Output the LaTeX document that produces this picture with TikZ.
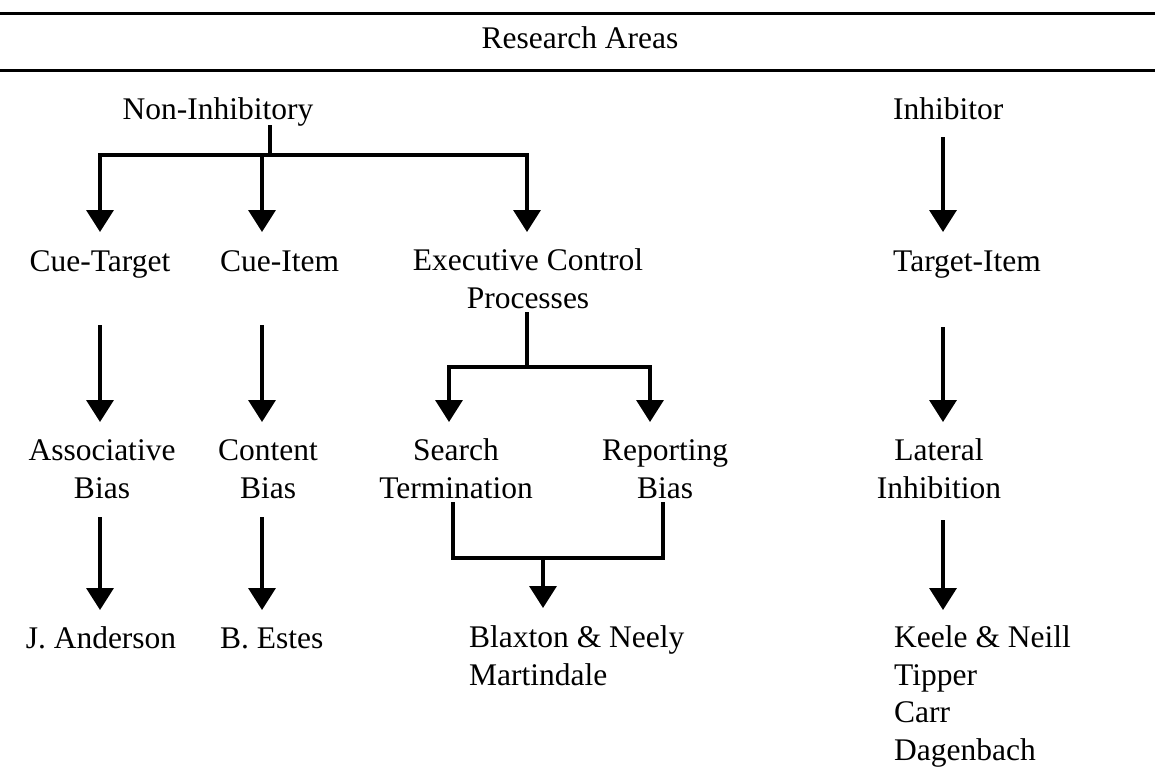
\documentclass[tikz,border=0pt]{standalone}
\usepackage{fontspec}
\setmainfont{Liberation Serif}
\usetikzlibrary{arrows.meta}
\newcommand\dfs{\fontsize{31.5}{37.5}\selectfont}
\tikzset{
  txt/.style={inner sep=0pt, font=\dfs, align=center, anchor=base},
  ln/.style={line width=3.5pt},
  arr/.style={ln, -{Triangle[width=27pt,length=22pt]}},
  rule/.style={line width=3pt},
}
\begin{document}
\begin{tikzpicture}[x=1pt,y=-1pt]
\fill[white] (0,0) rectangle (1155,771);
\useasboundingbox (0,0) rectangle (1155,771);
% table rules
\draw[rule] (0,13) -- (1155,13);
\draw[rule] (0,70) -- (1155,70);
% column coordinates
\coordinate (c2) at (262,0);
\coordinate (c3) at (449,0);
\coordinate (c4) at (650,0);
\coordinate (c5) at (943,0);
\coordinate (c6) at (453,0);
\coordinate (c7) at (663,0);
% nodes (multi-line nodes are placed by the baseline of their last line)
\node[txt] (ra) at (580,48) {Research Areas};
\node[txt] (ni) at (218,119) {Non-Inhibitory};
\node[txt, anchor=base west] (ih) at (893,119) {Inhibitor};
\node[txt] (ct) at (100,271) {Cue-Target};
\node[txt, anchor=base west] (ci) at (220,271) {Cue-Item};
\node[txt] (ec) at (528,308) {Executive Control\\Processes};
\node[txt, anchor=base west] (ti) at (893,271) {Target-Item};
\node[txt] (ab) at (102,498) {Associative\\Bias};
\node[txt] (cb) at (268,498) {Content\\Bias};
\node[txt] (st) at (456,498) {Search\\Termination};
\node[txt] (rb) at (665,498) {Reporting\\Bias};
\node[txt] (li) at (939,498) {Lateral\\Inhibition};
\node[txt] (ja) at (101,648) {J. Anderson};
\node[txt, anchor=base west] (be) at (220,648) {B. Estes};
\node[txt, anchor=base west, align=left] (bn) at (469,685) {Blaxton \& Neely\\Martindale};
\node[txt, anchor=base west, align=left] (kn) at (894,760) {Keele \& Neill\\Tipper\\Carr\\Dagenbach};
% junctions
\coordinate (nj) at (270,155);
\coordinate (ej) at (527,367);
\coordinate (mj) at (543,558);
% Non-Inhibitory branch
\draw[ln] ([yshift=-6pt]ni.base -| nj) -- (nj);
\draw[arr] (nj) -| ([yshift=39pt]ct.base);
\draw[arr] (nj) -| ([yshift=39pt]ci.base -| c2);
\draw[arr] (nj) -| ([yshift=76pt]ec.base -| ej);
% Inhibitor branch
\draw[arr] ([yshift=-18pt]ih.base -| c5) -- ([yshift=39pt]ti.base -| c5);
% row 2 -> row 3
\draw[arr] ([yshift=-54pt]ct.base) -- ([yshift=76pt]ab.base -| ct.base);
\draw[arr] ([yshift=-54pt]ci.base -| c2) -- ([yshift=76pt]cb.base -| c2);
\draw[arr] ([yshift=-56pt]ti.base -| c5) -- ([yshift=76pt]li.base -| c5);
\draw[ln] ([yshift=-4pt]ec.base -| ej) -- (ej);
\draw[arr] (ej) -| ([yshift=76pt]st.base -| c3);
\draw[arr] (ej) -| ([yshift=76pt]rb.base -| c4);
% row 3 -> row 4
\draw[arr] ([yshift=-19pt]ab.base -| ct.base) -- ([yshift=38pt]ja.base -| ct.base);
\draw[arr] ([yshift=-19pt]cb.base -| c2) -- ([yshift=38pt]be.base -| c2);
\draw[arr] ([yshift=-22pt]li.base -| c5) -- ([yshift=150pt]kn.base -| c5);
\draw[ln] ([yshift=-4pt]st.base -| c6) -- (mj -| c6) -- (mj -| c7) -- ([yshift=-4pt]rb.base -| c7);
\draw[arr] (mj) -- ([yshift=77pt]bn.base -| mj);
\end{tikzpicture}
\end{document}
